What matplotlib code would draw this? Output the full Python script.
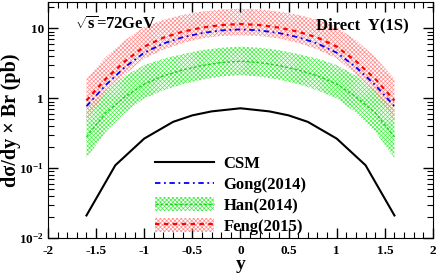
import numpy as np
import matplotlib
matplotlib.use('Agg')
import matplotlib.pyplot as plt
from matplotlib.ticker import MultipleLocator, LogLocator, NullFormatter
from matplotlib.lines import Line2D
from matplotlib.patches import Patch

plt.rcParams['font.family'] = ['Liberation Serif', 'DejaVu Serif']
plt.rcParams['font.weight'] = 'bold'
plt.rcParams['mathtext.fontset'] = 'custom'
plt.rcParams['mathtext.rm'] = 'Liberation Serif:bold'
plt.rcParams['mathtext.it'] = 'Liberation Serif:bold'
plt.rcParams['mathtext.bf'] = 'Liberation Serif:bold'
plt.rcParams['hatch.linewidth'] = 0.5

# CSM curve
y_csm = [-1.6, -1.3, -1.0, -0.7, -0.5, -0.3, 0.0, 0.3, 0.5, 0.7, 1.0, 1.3, 1.6]
csm = [0.021, 0.11, 0.265, 0.46, 0.57, 0.65, 0.72, 0.65, 0.57, 0.46, 0.265, 0.11, 0.021]

# rapidity grid for the NRQCD bands
y_band = [-1.6, -1.4, -1.2, -1.0, -0.8, -0.6, -0.4, -0.2, 0.0,
          0.2, 0.4, 0.6, 0.8, 1.0, 1.2, 1.4, 1.6]

gong = [0.77, 1.55, 2.8, 4.5, 6.1, 7.5, 8.6, 9.4, 9.7,
        9.4, 8.6, 7.5, 6.1, 4.5, 2.8, 1.55, 0.77]

han = [0.28, 0.62, 1.05, 1.6, 2.1, 2.55, 2.95, 3.25, 3.4,
       3.25, 2.95, 2.55, 2.1, 1.6, 1.05, 0.62, 0.28]
han_up = [0.68, 1.3, 2.1, 3.0, 3.7, 4.3, 4.9, 5.3, 5.5,
          5.3, 4.9, 4.3, 3.7, 3.0, 2.1, 1.3, 0.68]
han_lo = [0.14, 0.33, 0.62, 1.0, 1.3, 1.6, 1.85, 2.05, 2.15,
          2.05, 1.85, 1.6, 1.3, 1.0, 0.62, 0.33, 0.14]

feng = [0.93, 1.9, 3.4, 5.5, 7.4, 9.0, 10.3, 11.2, 11.6,
        11.2, 10.3, 9.0, 7.4, 5.5, 3.4, 1.9, 0.93]
feng_up = [1.9, 3.9, 6.8, 10.5, 13.3, 15.7, 17.5, 18.7, 19.2,
           18.7, 17.5, 15.7, 13.3, 10.5, 6.8, 3.9, 1.9]
feng_lo = [0.47, 1.2, 2.2, 3.7, 5.0, 6.2, 7.2, 7.8, 8.0,
           7.8, 7.2, 6.2, 5.0, 3.7, 2.2, 1.2, 0.47]

labels = ['CSM', 'Gong(2014)', 'Han(2014)', 'Feng(2015)']


def ylab(v, p):
    if abs(v - 10) < 1e-6:
        return '10'
    if abs(v - 1) < 1e-6:
        return '1'
    e = int(round(np.log10(v)))
    return r'$10^{%d}$' % e


fig = plt.figure(figsize=(4.36, 2.78), dpi=100)
ax = fig.add_axes([0.110, 0.144, 0.883, 0.849])

# bands
ax.fill_between(y_band, han_lo, han_up, facecolor='none', edgecolor='#44f044',
                hatch='xxxxxxxx', linewidth=0)
ax.fill_between(y_band, feng_lo, feng_up, facecolor='none', edgecolor='#ff8c8c',
                hatch='xxxxxxxx', linewidth=0)

ax.plot(y_band, han, color='#22cc22', linestyle=(0, (2, 1.5)), linewidth=1.0)
ax.plot(y_band, gong, color='blue', linestyle=(0, (3, 2, 1, 2)), linewidth=1.3)
ax.plot(y_band, feng, color='red', linestyle=(0, (2, 2)), linewidth=1.6)
ax.plot(y_csm, csm, color='black', linewidth=1.5)

ax.set_yscale('log')
ax.set_xlim(-2, 2)
ax.set_ylim(0.01, 24)
ax.xaxis.set_major_locator(MultipleLocator(0.5))
ax.xaxis.set_minor_locator(MultipleLocator(0.1))
ax.yaxis.set_major_locator(LogLocator(base=10, numticks=10))
ax.yaxis.set_minor_locator(LogLocator(base=10, subs=np.arange(2, 10), numticks=10))
ax.yaxis.set_minor_formatter(NullFormatter())
ax.yaxis.set_major_formatter(plt.FuncFormatter(ylab))
ax.xaxis.set_major_formatter(plt.FuncFormatter(lambda v, p: '%g' % v))

ax.tick_params(which='both', direction='in', top=True, right=True, labelsize=9.5)
ax.tick_params(which='major', length=7, width=1)
ax.tick_params(which='minor', length=4, width=0.8)
ax.tick_params(axis='x', pad=5)
ax.tick_params(axis='y', pad=3)

ax.set_xlabel('y', fontsize=14, fontweight='bold')
ax.xaxis.set_label_coords(0.5, -0.075)
ax.set_ylabel('dσ/dy × Br (pb)', fontsize=14.5, fontweight='bold')
ax.yaxis.set_label_coords(-0.07, 0.5)

ax.text(0.07, 0.885, r'$\sqrt{\mathrm{s}}$=72GeV', transform=ax.transAxes,
        fontsize=12, fontweight='bold')
ax.text(0.695, 0.885, 'Direct  Υ(1S)', transform=ax.transAxes, fontsize=12,
        fontweight='bold')

h_csm = Line2D([], [], color='black', linewidth=1.5)
h_gong = Line2D([], [], color='blue', linestyle=(0, (3, 2, 1, 2)), linewidth=1.3)
h_han = (Patch(facecolor='none', edgecolor='#44f044', hatch='xxxxxxxx', linewidth=0),
         Line2D([], [], color='#22cc22', linestyle=(0, (2, 1.5)), linewidth=1.0))
h_feng = (Patch(facecolor='none', edgecolor='#ff8c8c', hatch='xxxxxxxx', linewidth=0),
          Line2D([], [], color='red', linestyle=(0, (2, 2)), linewidth=1.6))
ax.legend([h_csm, h_gong, h_han, h_feng], labels, loc='lower left',
          bbox_to_anchor=(0.24, -0.05), frameon=False, fontsize=12,
          handlelength=3.5, handleheight=0.9, labelspacing=0.25, handletextpad=0.6)

fig.savefig('out.png', dpi=100)
